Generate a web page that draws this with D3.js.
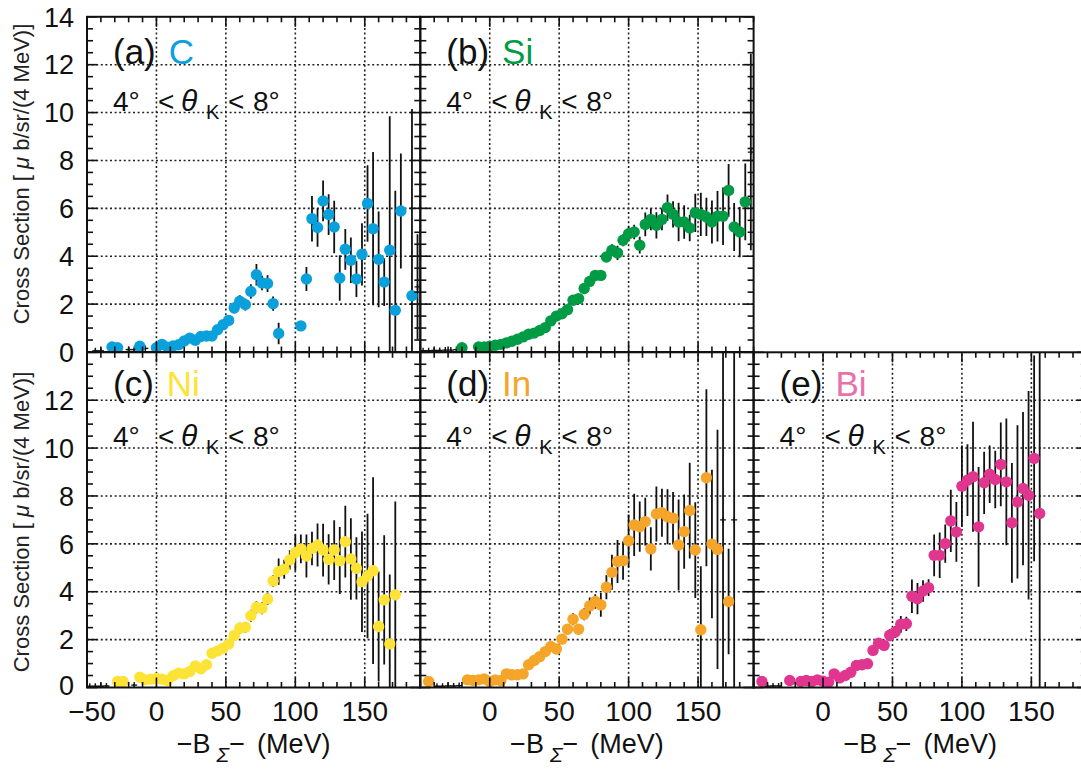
<!DOCTYPE html>
<html>
<head>
<meta charset="utf-8">
<script src="https://cdn.jsdelivr.net/npm/d3@7"></script>
<style>
  body { margin: 0; background: #fff; }
  svg { display: block; font-family: "Liberation Sans", Arial, sans-serif; }
</style>
</head>
<body>
<script>
// ---- data (x in MeV, y in ub/sr/(4 MeV)) ----
const aX = [-32,-28,-12,0,4,8,12,16,20,24,28,32,36,40,44,48,52,56,60,64,68,72,76,80,84,88,104,108,112,116,120,124,128,132,136,140,144,148,152,156,160,164,168,172,176,184];
const aY = [0.21,0.18,0.24,0.18,0.32,0.2,0.25,0.3,0.46,0.58,0.49,0.65,0.67,0.67,0.93,1.14,1.32,1.84,2.12,1.98,2.53,3.23,2.88,2.86,2.02,0.77,1.09,3.05,5.57,5.2,6.31,5.74,5.22,3.09,4.29,3.83,3.05,4.08,6.2,5.15,3.87,2.92,4.25,1.74,5.89,2.35];
const aErr = [0.08,0.08,0.1,0.1,0.1,0.1,0.1,0.1,0.12,0.12,0.12,0.12,0.14,0.14,0.15,0.18,0.2,0.22,0.25,0.25,0.3,0.45,0.3,0.35,0.3,0.45,0.15,0.5,0.95,0.8,0.85,0.85,1.1,0.95,0.85,0.95,0.75,1.3,1.6,3.2,2.0,1.0,5.6,5.0,2.4,7.8];

const bX = [-20,-8,-4,0,4,8,12,16,20,24,28,32,36,40,44,48,52,56,60,64,68,72,76,80,84,88,92,96,100,104,108,112,116,120,124,128,132,136,140,144,148,152,156,160,164,168,172,176,180,184];
const bY = [0.18,0.21,0.21,0.24,0.28,0.32,0.38,0.45,0.53,0.63,0.74,0.79,0.9,1.02,1.3,1.5,1.6,1.77,2.16,2.23,2.65,2.95,3.2,3.2,3.97,4.25,4.14,4.67,4.94,5.01,4.46,5.33,5.54,5.29,5.54,6.03,5.75,5.43,5.43,5.18,5.81,5.75,5.64,5.43,5.67,5.67,6.75,5.22,5.01,6.27];
const bErr = [0.06,0.06,0.06,0.06,0.06,0.07,0.07,0.08,0.08,0.09,0.1,0.1,0.11,0.12,0.13,0.14,0.15,0.16,0.17,0.18,0.2,0.2,0.2,0.2,0.15,0.25,0.3,0.25,0.3,0.3,0.35,0.5,0.45,0.55,0.45,0.55,0.55,0.8,0.7,0.55,0.8,0.9,0.8,0.9,1.05,1.2,1.1,1.0,1.05,1.6];

const cX = [-28,-24,-12,-8,-4,0,4,8,12,16,20,24,28,32,36,40,44,48,52,56,60,64,68,72,76,80,84,88,92,96,100,104,108,112,116,120,124,128,132,136,140,144,148,152,156,160,164,168,172];
const cY = [0.25,0.25,0.43,0.32,0.35,0.38,0.35,0.29,0.49,0.6,0.57,0.67,0.9,0.78,0.95,1.43,1.53,1.64,1.82,2.17,2.48,2.52,3.0,3.35,3.31,3.7,4.45,4.84,4.94,5.33,5.63,5.79,5.49,5.81,5.95,5.74,5.35,5.74,5.3,6.09,5.37,4.98,4.42,4.66,4.88,2.55,3.66,1.82,3.87];
const cErr = [0.06,0.06,0.08,0.07,0.07,0.08,0.08,0.08,0.1,0.1,0.1,0.11,0.13,0.12,0.14,0.16,0.17,0.18,0.2,0.2,0.22,0.22,0.25,0.25,0.25,0.25,0.25,0.55,0.4,0.4,0.75,0.6,0.9,0.7,0.9,1.1,1.05,1.25,1.4,1.5,1.7,1.3,2.1,2.6,3.9,2.3,2.7,2.9,3.9];

const dX = [-44,-16,-12,-8,-4,0,4,8,12,16,20,24,28,32,36,40,44,48,52,56,60,64,68,72,76,80,84,88,92,96,100,104,108,112,116,120,124,128,132,136,140,144,148,152,156,160,164,172];
const dY = [0.25,0.32,0.29,0.32,0.36,0.25,0.32,0.28,0.57,0.53,0.53,0.57,0.95,1.13,1.29,1.5,1.71,1.61,2.02,2.43,2.85,2.43,3.06,3.41,3.59,3.45,4.19,4.81,5.26,5.3,6.13,6.79,6.72,6.93,5.79,7.25,7.3,7.13,7.07,5.95,6.51,7.39,5.74,2.41,8.76,5.99,5.77,3.59];
const dErr = [0.06,0.07,0.07,0.07,0.08,0.07,0.08,0.08,0.1,0.1,0.1,0.11,0.13,0.14,0.15,0.16,0.17,0.17,0.2,0.22,0.25,0.22,0.25,0.35,0.3,0.5,0.5,0.73,0.9,0.8,1.1,1.3,1.05,1.0,0.9,1.15,1.0,1.15,1.1,1.9,1.55,2.0,2.0,2.65,3.7,3.1,5.0,2.2];

const eX = [-44,-24,-16,-12,-8,-4,0,4,8,12,16,20,24,28,32,36,40,44,48,52,56,60,64,68,72,76,80,84,88,92,96,100,104,108,112,116,120,124,128,132,136,140,144,148,152,156];
const eY = [0.25,0.29,0.25,0.29,0.25,0.32,0.26,0.22,0.57,0.4,0.5,0.64,0.92,0.95,0.99,1.55,1.85,1.76,2.18,2.32,2.64,2.66,3.81,3.71,4.03,4.17,5.52,5.52,6.01,6.96,6.5,8.41,8.66,8.8,6.71,8.55,8.91,8.69,9.32,8.59,6.88,7.75,8.31,8.03,9.57,7.27];
const eErr = [0.06,0.07,0.07,0.07,0.07,0.08,0.08,0.08,0.12,0.1,0.11,0.13,0.15,0.15,0.16,0.2,0.22,0.22,0.25,0.25,0.35,0.3,0.7,0.65,0.45,0.35,0.87,0.95,0.8,1.3,1.25,1.7,1.5,2.3,2.5,1.3,1.2,1.2,1.75,2.65,2.5,3.2,3.2,4.35,4.3,8];

// bins drawn only as small crosses (empty / huge-error bins)
const aSmallX = [-44,-40,-20,-16,-8,188];
const aSmallY = [0.05,0.05,0.1,0.1,0.15,2.72];
const aSmallErr = [0.05,0.05,0.05,0.05,0.05,2.2];
const bSmallX = [-48,-44,-40,-36,-32,-28,-24,188];
const bSmallY = [0.05,0.05,0.06,0.06,0.08,0.08,0.1,8.35];
const bSmallErr = [0.03,0.03,0.03,0.03,0.04,0.04,0.05,4.1];
const cSmallX = [-48,-44,-40,-36,-16];
const cSmallY = [0.05,0.05,0.05,0.06,0.1];
const cSmallErr = [0.03,0.03,0.03,0.03,0.05];
const dSmallX = [-38,-34,-30,-26,-22,168,176];
const dSmallY = [0.05,0.05,0.06,0.06,0.08,7,7];
const dSmallErr = [0.03,0.03,0.03,0.03,0.04,8,8];
const eSmallX = [-40,-36,-32];
const eSmallY = [0.05,0.06,0.06];
const eSmallErr = [0.03,0.03,0.03];

const xTickLabels = [-50, 0, 50, 100, 150];
const yTickLabels = [0, 2, 4, 6, 8, 10, 12, 14];
const tags = ["(a)", "(b)", "(c)", "(d)", "(e)"];
const nuclei = ["C", "Si", "Ni", "In", "Bi"];

// ---- layout ----
const W = 1081, H = 769;
const pw = 333.3, ph = 335.2;
const svg = d3.select("body").append("svg").attr("width", W).attr("height", H);

const panels = [
  {tag: tags[0], nuc: nuclei[0], X: aX, Y: aY, E: aErr, sX: aSmallX, sY: aSmallY, sE: aSmallErr,
   left: 87, top: 16.8, dot: "#0aa0dc", txt: "#0aa0dc", yLab: true, xLab: false},
  {tag: tags[1], nuc: nuclei[1], X: bX, Y: bY, E: bErr, sX: bSmallX, sY: bSmallY, sE: bSmallErr,
   left: 87 + pw, top: 16.8, dot: "#009b45", txt: "#009b45", yLab: false, xLab: false},
  {tag: tags[2], nuc: nuclei[2], X: cX, Y: cY, E: cErr, sX: cSmallX, sY: cSmallY, sE: cSmallErr,
   left: 87, top: 352.3, dot: "#fde336", txt: "#fde336", yLab: true, xLab: true, firstX: true},
  {tag: tags[3], nuc: nuclei[3], X: dX, Y: dY, E: dErr, sX: dSmallX, sY: dSmallY, sE: dSmallErr,
   left: 87 + pw, top: 352.3, dot: "#f4a52a", txt: "#f4a52a", yLab: false, xLab: true},
  {tag: tags[4], nuc: nuclei[4], X: eX, Y: eY, E: eErr, sX: eSmallX, sY: eSmallY, sE: eSmallErr,
   left: 87 + 2 * pw, top: 352.3, dot: "#e1368f", txt: "#ea70ac", yLab: false, xLab: true}
];

const xMinor = d3.range(-50, 191, 10);
const yMinor = d3.range(0, 14.01, 0.5);

panels.forEach((p, k) => {
  const x = d3.scaleLinear().domain([-50, 190]).range([p.left, p.left + pw]);
  const y = d3.scaleLinear().domain([0, 14]).range([p.top + ph, p.top]);
  const g = svg.append("g");

  const clipId = "clip" + k;
  svg.append("clipPath").attr("id", clipId)
    .append("rect").attr("x", p.left).attr("y", p.top).attr("width", pw).attr("height", ph);

  // dotted grid
  const grid = g.append("g").attr("stroke", "#222").attr("stroke-width", 1.6)
    .attr("stroke-dasharray", "2,2.6");
  grid.selectAll(".gx").data([0, 50, 100, 150]).enter().append("line")
    .attr("x1", d => x(d)).attr("x2", d => x(d)).attr("y1", y(0)).attr("y2", y(14));
  grid.selectAll(".gy").data([2, 4, 6, 8, 10, 12]).enter().append("line")
    .attr("y1", d => y(d)).attr("y2", d => y(d)).attr("x1", x(-50)).attr("x2", x(190));

  const pts = p.X.map((v, i) => ({x: v, y: p.Y[i], e: p.E[i]}));
  const small = p.sX.map((v, i) => ({x: v, y: p.sY[i], e: p.sE[i]}));
  const data = g.append("g").attr("clip-path", `url(#${clipId})`);

  // error bars
  data.selectAll(".err").data(pts.concat(small)).enter().append("line")
    .attr("x1", d => x(d.x)).attr("x2", d => x(d.x))
    .attr("y1", d => y(Math.max(0, d.y - d.e))).attr("y2", d => y(d.y + d.e))
    .attr("stroke", "#111").attr("stroke-width", 1.8);

  // small crosses
  data.selectAll(".sm").data(small).enter().append("line")
    .attr("x1", d => x(d.x) - 3).attr("x2", d => x(d.x) + 3)
    .attr("y1", d => y(d.y)).attr("y2", d => y(d.y))
    .attr("stroke", "#111").attr("stroke-width", 1.4);
  data.selectAll(".sm2").data(small).enter().append("line")
    .attr("x1", d => x(d.x)).attr("x2", d => x(d.x))
    .attr("y1", d => y(d.y) - 3).attr("y2", d => y(d.y) + 3)
    .attr("stroke", "#111").attr("stroke-width", 1.4);

  // markers
  data.selectAll("circle").data(pts).enter().append("circle")
    .attr("cx", d => x(d.x)).attr("cy", d => y(d.y)).attr("r", 5.7)
    .attr("fill", p.dot);

  // frame with ticks on all four sides
  const fr = g.append("g").attr("stroke", "#111");
  fr.append("rect").attr("x", p.left).attr("y", p.top).attr("width", pw).attr("height", ph)
    .attr("fill", "none").attr("stroke-width", 2);
  xMinor.forEach(v => {
    const len = v % 50 === 0 ? 10 : 5.5;
    fr.append("line").attr("x1", x(v)).attr("x2", x(v)).attr("y1", y(0)).attr("y2", y(0) - len).attr("stroke-width", 1.6);
    fr.append("line").attr("x1", x(v)).attr("x2", x(v)).attr("y1", y(14)).attr("y2", y(14) + len).attr("stroke-width", 1.6);
  });
  yMinor.forEach(v => {
    const len = Math.abs(v % 2) < 1e-6 ? 10 : 6;
    fr.append("line").attr("y1", y(v)).attr("y2", y(v)).attr("x1", x(-50)).attr("x2", x(-50) + len).attr("stroke-width", 1.6);
    fr.append("line").attr("y1", y(v)).attr("y2", y(v)).attr("x1", x(190)).attr("x2", x(190) - len).attr("stroke-width", 1.6);
  });

  // tick labels
  if (p.yLab) {
    const labs = p.top < 100 ? yTickLabels : yTickLabels.filter(v => v < 14);
    g.selectAll(".yl").data(labs).enter().append("text")
      .attr("x", p.left - 13).attr("y", d => y(d) - (p.top > 100 && d === 0 ? 2 : 0)).attr("dy", "0.36em")
      .attr("text-anchor", "end").attr("font-size", 27).attr("fill", "#111")
      .text(d => d);
    g.append("text")
      .attr("transform", `translate(29,${p.top < 100 ? 174 : 522}) rotate(-90)`)
      .attr("text-anchor", "middle").attr("font-size", 22).attr("fill", "#222")
      .call(t => {
        t.append("tspan").text("Cross Section [ ");
        t.append("tspan").attr("font-style", "italic").text("μ");
        t.append("tspan").text(" b/sr/(4 MeV)]");
      });
  }
  if (p.xLab) {
    const labs = p.firstX ? xTickLabels : xTickLabels.filter(v => v > -50);
    g.selectAll(".xl").data(labs).enter().append("text")
      .attr("x", d => x(d) + (d < 0 ? 5 : 0)).attr("y", 721)
      .attr("text-anchor", "middle").attr("font-size", 28).attr("fill", "#111")
      .text(d => d < 0 ? "\u2212" + Math.abs(d) : d);
    const xt = g.append("text").attr("x", p.left + pw / 2).attr("y", 753)
      .attr("text-anchor", "middle").attr("font-size", 27).attr("fill", "#111");
    xt.append("tspan").text("\u2212B");
    xt.append("tspan").attr("font-size", 21).attr("font-style", "italic").attr("dy", 9).attr("dx", 6).text("\u03A3");
    xt.append("tspan").attr("dy", -9).text("\u2212");
    xt.append("tspan").attr("dx", 12).text("(MeV)");
  }

  // panel title
  const t1 = g.append("text").attr("x", p.left + 26).attr("y", p.top + (p.top < 100 ? 47 : 44))
    .attr("font-size", 35);
  t1.append("tspan").attr("fill", "#111").text(p.tag);
  t1.append("tspan").attr("fill", p.txt).attr("dx", 13).text(p.nuc);

  // angle range
  const by = p.top + 94;
  const t2 = g.append("g").attr("fill", "#111").attr("font-size", 28);
  t2.append("text").attr("x", p.left + 26).attr("y", by).text("4°");
  t2.append("text").attr("x", p.left + 71).attr("y", by).text("<");
  t2.append("text").attr("x", p.left + 94).attr("y", by).attr("font-style", "italic").attr("font-size", 30).text("θ");
  t2.append("text").attr("x", p.left + 119).attr("y", by + 8).attr("font-size", 20).text("K");
  t2.append("text").attr("x", p.left + 141).attr("y", by).text("<");
  t2.append("text").attr("x", p.left + 166).attr("y", by).text("8°");
});
</script>
</body>
</html>
